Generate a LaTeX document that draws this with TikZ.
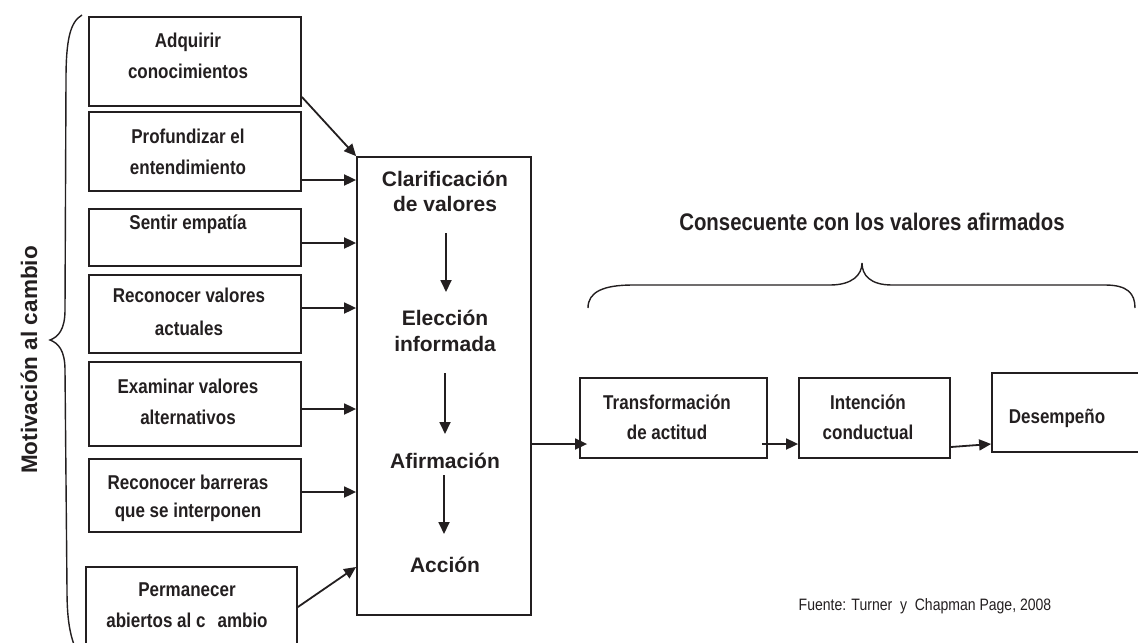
\documentclass[tikz,border=0pt]{standalone}
\usepackage{fontspec}
\setmainfont{Liberation Sans}
\newfontfamily\nar[FakeStretch=0.85]{Liberation Sans}
\usetikzlibrary{arrows.meta,fit}
\definecolor{ink}{RGB}{35,31,32}
\begin{document}
\begin{tikzpicture}[x=0.5pt,y=-0.5pt,
  box/.style={draw=ink,line width=0.9pt,inner sep=0pt},
  ltxt/.style={text=ink,font=\nar\bfseries\fontsize{10}{15.5}\selectfont,align=center,inner sep=0pt},
  rtxt/.style={text=ink,font=\nar\bfseries\fontsize{10}{15}\selectfont,align=center,inner sep=0pt},
  ctxt/.style={text=ink,font=\bfseries\fontsize{10.5}{13}\selectfont,align=center,inner sep=0pt},
  arr/.style={draw=ink,line width=0.9pt,-{Triangle[length=6pt,width=5.5pt]}},
  brace/.style={draw=ink,line width=0.7pt}
]
\useasboundingbox (0,0) rectangle (1138,642);
\clip (0,0) rectangle (1138,642);

% left boxes
\node[box, fit={(89,17)(301,106)}] (b1) {};
\node[box, fit={(89,112)(301,191)}] (b2) {};
\node[box, fit={(89,209)(301,266)}] (b3) {};
\node[box, fit={(89,275)(301,353)}] (b4) {};
\node[box, fit={(89,362)(301,446)}] (b5) {};
\node[box, fit={(89,459)(301,532)}] (b6) {};
\node[box, fit={(86,567)(297,648)}] (b7) {};
% centre box
\node[box, fit={(357,157)(531,615)}] (C) {};
% right boxes
\node[box, fit={(580,378)(767,458)}] (T) {};
\node[box, fit={(799,378)(950,458)}] (I) {};
\node[box, fit={(992,373)(1150,452)}] (D) {};

% texts
\node[ltxt] (t1) at (188,56) {Adquirir\\conocimientos};
\node[ltxt] (t2) at (188,151.5) {Profundizar el\\entendimiento};
\node[ltxt] (t3) at (188,224) {Sentir empatía};
\node[ltxt,font=\nar\bfseries\fontsize{10}{16.5}\selectfont] (t4) at (189,311.5) {Reconocer valores\\actuales};
\node[ltxt] (t5) at (188,401.5) {Examinar valores\\alternativos};
\node[ltxt,font=\nar\bfseries\fontsize{10}{14}\selectfont] (t6) at (188,498) {Reconocer barreras\\que se interponen};
\node[ltxt] (t7) at (187,605.2) {Permanecer\\abiertos al c\hspace{6pt}ambio};

\node[ctxt] (cl) at (445,191.4) {Clarificación\\de valores};
\node[ctxt] (el) at (445,330.8) {Elección\\informada};
\node[ctxt] (af) at (445,461) {Afirmación};
\node[ctxt] (ac) at (445,565) {Acción};

\node[rtxt] (tt) at (667,417) {Transformación\\de actitud};
\node[rtxt] (it) at (868,417) {Intención\\conductual};
\node[rtxt] (dt) at (1057,418) {Desempeño};

\node[text=ink,font=\nar\bfseries\fontsize{12}{14}\selectfont,inner sep=0pt] (cons) at (872,222) {Consecuente con los valores afirmados};
\node[text=ink,font=\bfseries\fontsize{11.25}{13}\selectfont,rotate=90,inner sep=0pt] (mot) at (29,360) {Motivación al cambio};
\node[text=ink,font=\nar\fontsize{8.25}{10}\selectfont,inner sep=0pt] (src) at (925,606.4) {Fuente: Turner\ \ y\ \ Chapman Page, 2008};

% arrows into centre box
\draw[arr] (b1.east |- 0,97) -- (C.north west);
\draw[arr] (b2.east |- 0,180) -- (C.west |- 0,180);
\draw[arr] (b3.east |- 0,243) -- (C.west |- 0,243);
\draw[arr] (b4.east |- 0,308) -- (C.west |- 0,308);
\draw[arr] (b5.east |- 0,409) -- (C.west |- 0,409);
\draw[arr] (b6.east |- 0,492) -- (C.west |- 0,492);
\draw[arr] (b7.east |- 0,607) -- (C.west |- 0,567);

% arrows inside centre box
\coordinate (v1a) at (446,233); \coordinate (v1b) at (446,292);
\coordinate (v2a) at (445,373); \coordinate (v2b) at (445,434);
\coordinate (v3a) at (444,475); \coordinate (v3b) at (444,534);
\draw[arr] (v1a) -- (v1b);
\draw[arr] (v2a) -- (v2b);
\draw[arr] (v3a) -- (v3b);

% arrows to the right
\draw[arr,shorten >=-4pt] (C.east |- 0,444) -- (T.west |- 0,444);
\draw[arr,shorten <=-3pt] (T.east |- 0,444) -- (I.west |- 0,444);
\draw[arr] (I.east |- 0,447) -- (D.west |- 0,444);

% braces
\draw[brace] (82,15) .. controls (70,22) and (66,40) .. (66,80) -- (65,310)
  .. controls (65,330) and (58,337) .. (50,340)
  .. controls (58,343) and (65,350) .. (65,370) -- (67,590)
  .. controls (67,620) and (70,635) .. (76,650);
\draw[brace] (588,308) .. controls (588,292) and (603,285) .. (633,285) -- (830,285)
  .. controls (852,285) and (862,275) .. (862,263)
  .. controls (862,275) and (870,285) .. (892,285) -- (1105,285)
  .. controls (1127,285) and (1135,293) .. (1135,308);
\end{tikzpicture}
\end{document}
